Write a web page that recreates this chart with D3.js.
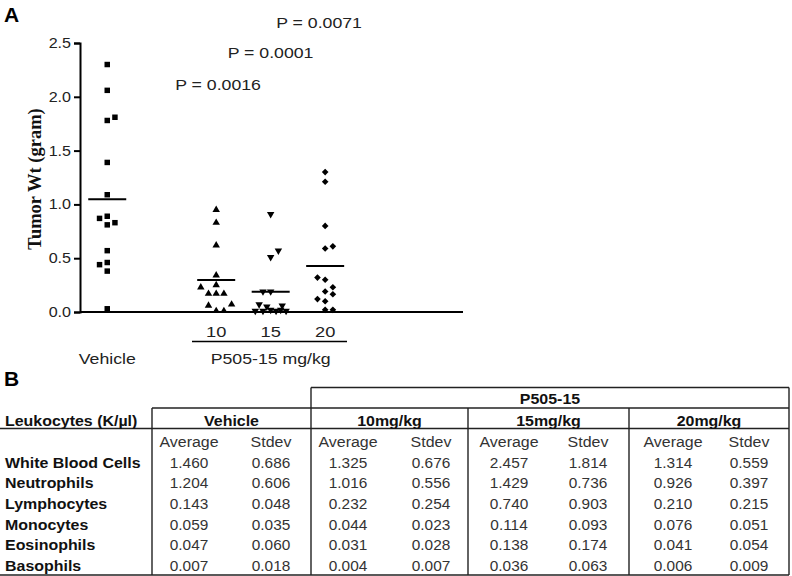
<!DOCTYPE html>
<html><head><meta charset="utf-8">
<script src="https://cdn.jsdelivr.net/npm/d3@7"></script>
<style>
body{margin:0;background:#fff;}
svg{display:block;font-family:"Liberation Sans",Arial,sans-serif;}
</style></head>
<body>
<svg id="c" width="792" height="576"></svg>
<script>
// ---------- Panel A data ----------
const groups = ["Vehicle", "10", "15", "20"];
const groupPos = [0, 2, 3, 4];
const vehicleWt = [2.30, 2.06, 1.81, 1.78, 1.39, 1.09, 0.89, 0.87, 0.83, 0.81, 0.57, 0.46, 0.44, 0.38, 0.03];
const vehicleSlot = [0, 0, 1, 0, 0, 0, 0, -1, 1, 0, 0, 0, -1, 0, 0];
const dose10Wt = [0.95, 0.83, 0.62, 0.34, 0.25, 0.23, 0.17, 0.17, 0.17, 0.07, 0.06, 0.01, 0.01];
const dose10Slot = [0, 0, 0, 0, 0, -2, -1, 0, 1, 2, -1, 0, 1];
const dose15Wt = [0.91, 0.57, 0.51, 0.19, 0.19, 0.07, 0.05, 0.06, 0.01, 0.01, 0.02, 0.01, 0.02, 0.01];
const dose15Slot = [0, 1, 0, -1, 0, -1.5, -0.5, 1.5, -2, -1, 0, 0.7, 1.3, 2];
const dose20Wt = [1.30, 1.21, 0.80, 0.61, 0.59, 0.32, 0.30, 0.23, 0.19, 0.165, 0.12, 0.10, 0.02, 0.02];
const dose20Slot = [0, 0, 0, 1, 0, -1, 0, 1, 0, 1, -1, 0, 0, 1];
const yTicks = [0, 0.5, 1.0, 1.5, 2.0, 2.5];
const pLabels = ["P = 0.0016", "P = 0.0001", "P = 0.0071"];
const pLabelGroup = ["10", "15", "20"];

// ---------- Panel B data ----------
const rowLabels = ["White Blood Cells", "Neutrophils", "Lymphocytes", "Monocytes", "Eosinophils", "Basophils"];
const tableGroups = ["Vehicle", "10mg/kg", "15mg/kg", "20mg/kg"];
const vehicleAvg = ["1.460", "1.204", "0.143", "0.059", "0.047", "0.007"];
const vehicleSd  = ["0.686", "0.606", "0.048", "0.035", "0.060", "0.018"];
const mg10Avg = ["1.325", "1.016", "0.232", "0.044", "0.031", "0.004"];
const mg10Sd  = ["0.676", "0.556", "0.254", "0.023", "0.028", "0.007"];
const mg15Avg = ["2.457", "1.429", "0.740", "0.114", "0.138", "0.036"];
const mg15Sd  = ["1.814", "0.736", "0.903", "0.093", "0.174", "0.063"];
const mg20Avg = ["1.314", "0.926", "0.210", "0.076", "0.041", "0.006"];
const mg20Sd  = ["0.559", "0.397", "0.215", "0.051", "0.054", "0.009"];

const svg = d3.select("#c");
const SX = 1.18; // horizontal stretch of the source image's text

function txt(x, y, t, opt) {
  opt = opt || {};
  const s = opt.sx || SX;
  return svg.append("text")
    .attr("transform", `translate(${x},${y}) scale(${s},1)`)
    .attr("text-anchor", opt.anchor || "start")
    .attr("font-size", opt.size || 15)
    .attr("font-weight", opt.bold ? "bold" : "normal")
    .attr("fill", opt.fill || "#222")
    .text(t);
}

// ================= Panel A =================
txt(4, 22, "A", {size: 20, bold: true, fill: "#000", sx: 1.05});

const x = d3.scaleLinear().domain([-0.5, 6.53]).range([80, 463]);
const y = d3.scaleLinear().domain([0, 2.5]).range([312, 43]);
const slotW = 7.7;

const yAxis = d3.axisLeft(y).tickValues(yTicks).tickFormat(d3.format(".1f")).tickSize(6).tickPadding(3);
const ga = svg.append("g").attr("transform", "translate(80,0)").call(yAxis);
ga.select(".domain").attr("stroke", "#000").attr("stroke-width", 2);
ga.selectAll(".tick line").attr("stroke", "#000").attr("stroke-width", 2);
ga.selectAll(".tick text").attr("font-size", 14).attr("fill", "#222")
  .attr("font-family", "Liberation Sans, Arial").attr("x", -9 / 1.15).attr("transform", "scale(1.15,1)");

// x axis line
svg.append("line").attr("x1", x(-0.5)).attr("x2", x(6.53)).attr("y1", y(0)).attr("y2", y(0))
  .attr("stroke", "#000").attr("stroke-width", 2);

// y label
svg.append("text").attr("transform", `translate(41,179) rotate(-90)`)
  .attr("text-anchor", "middle").attr("font-family", "Liberation Serif, Times New Roman, serif")
  .attr("font-weight", "bold").attr("font-size", 18.5).attr("fill", "#111").text("Tumor Wt (gram)");

const series = [
  {g: "Vehicle", v: vehicleWt, s: vehicleSlot, sym: d3.symbolSquare, size: 30, rot: 0},
  {g: "10", v: dose10Wt, s: dose10Slot, sym: d3.symbolTriangle, size: 24, rot: 0},
  {g: "15", v: dose15Wt, s: dose15Slot, sym: d3.symbolTriangle, size: 24, rot: 180},
  {g: "20", v: dose20Wt, s: dose20Slot, sym: d3.symbolDiamond2, size: 28, rot: 0}
];
const gx = g => x(groupPos[groups.indexOf(g)]);

series.forEach(se => {
  const cx = gx(se.g);
  const pts = se.v.map((v, i) => ({v, s: se.s[i]}));
  svg.append("g").selectAll("path").data(pts).join("path")
    .attr("d", d3.symbol().type(se.sym).size(se.size))
    .attr("transform", d => `translate(${cx + d.s * slotW},${y(d.v)}) rotate(${se.rot})`)
    .attr("fill", "#000");
  const m = d3.mean(se.v);
  svg.append("line").attr("x1", cx - 19).attr("x2", cx + 19).attr("y1", y(m)).attr("y2", y(m))
    .attr("stroke", "#000").attr("stroke-width", 2);
});

// x labels
["10", "15", "20"].forEach(g => txt(gx(g), 337, g, {anchor: "middle", size: 15.5}));
svg.append("line").attr("x1", 192).attr("x2", 347).attr("y1", 341.5).attr("y2", 341.5)
  .attr("stroke", "#000").attr("stroke-width", 1.5);
txt((gx("10") + gx("20")) / 2, 364, "P505-15 mg/kg", {anchor: "middle", size: 15});
txt(gx("Vehicle"), 364, "Vehicle", {anchor: "middle", size: 15});

// P values
const pY = [90, 58, 28];
const pDx = [-41, -43, -49];
pLabels.forEach((t, i) => txt(gx(pLabelGroup[i]) + pDx[i], pY[i], t, {size: 15}));

// ================= Panel B =================
txt(4, 386, "B", {size: 20, bold: true, fill: "#000", sx: 1.05});

const colEdges = [152, 311, 468, 629, 789];
const subCols = [[189, 271], [348, 431], [509, 588], [673, 749]];
const colData = [[vehicleAvg, vehicleSd], [mg10Avg, mg10Sd], [mg15Avg, mg15Sd], [mg20Avg, mg20Sd]];
const rowY = d3.scaleLinear().domain([0, 5]).range([462.5, 566]);
const bottom = 575;
const ln = (x1, y1, x2, y2) => svg.append("line").attr("x1", x1).attr("y1", y1).attr("x2", x2).attr("y2", y2)
  .attr("stroke", "#222").attr("stroke-width", 1.4);

ln(311, 387.5, 789, 387.5);
ln(152, 408, 789, 408);
ln(0, 428.5, 789, 428.5);
ln(152, 408, 152, bottom);
ln(311, 387.5, 311, bottom);
ln(468, 408, 468, bottom);
ln(629, 408, 629, bottom);
ln(789, 387.5, 789, bottom);
ln(0, bottom, 789, bottom);

const TS = 1.1;
txt((311 + 789) / 2, 404, "P505-15", {anchor: "middle", size: 14.5, bold: true, fill: "#111", sx: TS});
txt(5, 426, "Leukocytes  (K/\u00b5l)", {size: 14.5, bold: true, fill: "#111", sx: TS});
tableGroups.forEach((t, i) => {
  txt((colEdges[i] + colEdges[i + 1]) / 2, 426, t, {anchor: "middle", size: 14.5, bold: true, fill: "#111", sx: TS});
  ["Average", "Stdev"].forEach((s, j) => {
    txt(subCols[i][j], 447, s, {anchor: "middle", size: 14.5, fill: "#333", sx: TS});
    colData[i][j].forEach((v, r) => {
      txt(subCols[i][j], rowY(r) + 5, v, {anchor: "middle", size: 14, fill: "#333", sx: TS});
    });
  });
});
rowLabels.forEach((t, r) => txt(5, rowY(r) + 5, t, {size: 14.5, bold: true, fill: "#111", sx: TS}));
</script>
</body></html>
